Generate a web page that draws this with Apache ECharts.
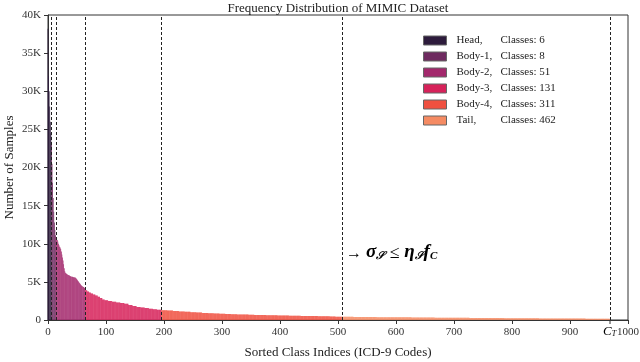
<!DOCTYPE html>
<html><head><meta charset="utf-8">
<script src="https://cdn.jsdelivr.net/npm/echarts@6/dist/echarts.min.js"></script>
<style>html,body{margin:0;padding:0;background:#fff}#c{width:640px;height:362px}</style>
</head><body><div id="c"></div>
<script>
// ---- data ----
const groupNames = ['Head', 'Body-1', 'Body-2', 'Body-3', 'Body-4', 'Tail'];
const groupCounts = [6, 8, 51, 131, 311, 462];
const groupColors = ['#2d1b3c', '#6e2a5f', '#a3286c', '#d6225a', '#ef5040', '#f58b63'];

const headValues = [38200, 32000, 30000, 28000, 26000, 24500];
const body1Values = [23000, 20500, 18000, 16000, 14200, 12800, 11800, 11100];
const body2Values = [
  10900, 10700, 10500, 10300, 10000, 9800, 9600, 9500, 9300, 9000,
  8600, 8200, 7800, 7300, 6800, 6400, 6200, 6100, 6050, 6000,
  5950, 5900, 5860, 5820, 5780, 5740, 5700, 5680, 5660, 5640,
  5620, 5600, 5580, 5560, 5500,
  5400, 5300, 5200, 5100, 5000, 4900, 4800, 4700, 4600, 4500,
  4420, 4380, 4340, 4300, 4200, 4100
];
// plateaus: sample level and number of classes at that level
const body3Levels = [3900, 3750, 3600, 3480, 3350, 3200, 3050, 2900, 2700, 2600, 2500, 2380, 2300, 2220, 2130, 1980, 1850, 1720, 1640, 1560, 1480, 1420, 1330];
const body3Runs   = [3, 3, 3, 4, 4, 4, 4, 4, 4, 6, 7, 7, 7, 7, 7, 7, 7, 7, 7, 7, 7, 7, 8];
const body4Levels = [1280, 1230, 1180, 1120, 1070, 1020, 970, 920, 880, 850, 820, 790, 760, 735, 710, 690, 670, 650, 630, 615, 600, 585, 570, 555, 540, 525, 510, 495, 480, 460, 440];
const body4Runs   = [10, 10, 10, 10, 10, 10, 10, 10, 10, 10, 10, 10, 10, 10, 10, 10, 10, 10, 10, 10, 10, 10, 10, 10, 10, 10, 10, 10, 10, 10, 11];
const tailLevels  = [420, 405, 390, 375, 360, 345, 332, 320, 308, 296, 285, 274, 263, 252, 242, 232, 222, 212, 203, 194, 185, 176, 168];
const tailRuns    = [20, 20, 20, 20, 20, 20, 20, 20, 20, 20, 20, 20, 20, 20, 20, 20, 20, 20, 20, 20, 20, 20, 22];

const boundaries = [6, 14, 65, 196, 507, 969];
const xTickValues = [0, 100, 200, 300, 400, 500, 600, 700, 800, 900, 1000];
const yTickValues = [0, 5000, 10000, 15000, 20000, 25000, 30000, 35000, 40000];
const cTPosition = 969;

// ---- build ----
function expandRuns(levels, runs) {
  const out = [];
  levels.forEach((lv, i) => { for (let k = 0; k < runs[i]; k++) out.push(lv); });
  return out;
}
const groupValues = [
  headValues, body1Values, body2Values,
  expandRuns(body3Levels, body3Runs),
  expandRuns(body4Levels, body4Runs),
  expandRuns(tailLevels, tailRuns)
];
let start = 0;
const groupData = groupValues.map(vals => {
  const d = vals.map((v, i) => [start + i, v]);
  start += vals.length;
  return d;
});

const SERIF = '"Liberation Serif", "DejaVu Serif", serif';
const chart = echarts.init(document.getElementById('c'), null, { renderer: 'canvas' });

const series = groupNames.map((name, g) => ({
  type: 'bar',
  name: name,
  stack: 'all',
  data: groupData[g],
  barWidth: 0.72,
  barMinWidth: 0.01,
  itemStyle: { color: groupColors[g] },
  emphasis: { disabled: true },
  silent: true
}));
series[series.length - 1].markLine = {
  silent: true,
  symbol: ['none', 'none'],
  label: { show: false },
  lineStyle: { color: '#222', type: [3, 2], width: 1 },
  data: boundaries.map(b => ({ xAxis: b }))
};

chart.setOption({
  animation: false,
  title: {
    text: 'Frequency Distribution of MIMIC Dataset',
    left: 338, top: 2, textAlign: 'center', padding: 0,
    textStyle: { fontFamily: SERIF, fontSize: 13, fontWeight: 'normal', color: '#222' }
  },
  grid: { left: 48, right: 12, top: 15, bottom: 42, outerBoundsMode: 'none', containLabel: false, show: true, borderColor: '#333', borderWidth: 1 },
  legend: {
    orient: 'vertical', left: 423, top: 35, padding: 0,
    itemWidth: 23, itemHeight: 9, itemGap: 5,
    icon: 'rect',
    itemStyle: { borderColor: '#666', borderWidth: 1 },
    data: groupNames,
    formatter: name => {
      const i = groupNames.indexOf(name);
      return '{a|' + name + ',}{b|Classes: ' + groupCounts[i] + '}';
    },
    textStyle: {
      fontFamily: SERIF, fontSize: 11, color: '#222', lineHeight: 11,
      rich: {
        a: { fontFamily: SERIF, fontSize: 11, color: '#222', width: 44, padding: [0, 0, 0, 5] },
        b: { fontFamily: SERIF, fontSize: 11, color: '#222' }
      }
    }
  },
  xAxis: {
    type: 'value', min: 0, max: 1000, interval: 100,
    name: 'Sorted Class Indices (ICD-9 Codes)', nameLocation: 'middle', nameGap: 26, nameMoveOverlap: false,
    nameTextStyle: { fontFamily: SERIF, fontSize: 13, color: '#222' },
    axisLine: { show: true, lineStyle: { color: '#333' } },
    axisTick: { show: true, length: 4, lineStyle: { color: '#333' } },
    axisLabel: {
      fontFamily: SERIF, fontSize: 11, color: '#333', margin: 7,
      formatter: v => xTickValues.indexOf(v) >= 0 ? String(v) : ''
    },
    splitLine: { show: false }
  },
  yAxis: {
    type: 'value', min: 0, max: 40000, interval: 5000,
    name: 'Number of Samples', nameLocation: 'middle', nameGap: 32, nameMoveOverlap: false,
    nameTextStyle: { fontFamily: SERIF, fontSize: 13, color: '#222' },
    axisLine: { show: true, lineStyle: { color: '#333' } },
    axisTick: { show: true, length: 4, lineStyle: { color: '#333' } },
    axisLabel: {
      fontFamily: SERIF, fontSize: 11, color: '#333', margin: 7,
      formatter: v => yTickValues.indexOf(v) < 0 ? '' : (v === 0 ? '0' : (v / 1000) + 'K')
    },
    splitLine: { show: false }
  },
  series: series
});

// annotation, C_T tick and label placed through the chart's own scales
const pAnn = chart.convertToPixel({ gridIndex: 0 }, [507, 8800]);
const pCT = chart.convertToPixel({ gridIndex: 0 }, [cTPosition, 0]);
chart.setOption({
  graphic: [
    {
      type: 'text', left: pAnn[0] + 4, top: pAnn[1] - 10, silent: true,
      style: {
        text: '{ar|→ }{m|σ}{s|𝒮}{r| ≤ }{m|η}{s|𝒮}{m|f}{s|C}',
        rich: {
          ar: { fontFamily: SERIF, fontSize: 16, color: '#111', verticalAlign: 'bottom', lineHeight: 19 },
          r: { fontFamily: SERIF, fontSize: 18, color: '#111', verticalAlign: 'bottom', lineHeight: 19 },
          m: { fontFamily: SERIF, fontSize: 19, fontStyle: 'italic', fontWeight: 'bold', color: '#111', verticalAlign: 'bottom', lineHeight: 19 },
          s: { fontFamily: SERIF, fontSize: 11, fontStyle: 'italic', fontWeight: 'bold', color: '#111', verticalAlign: 'bottom', lineHeight: 16 }
        }
      }
    },
    {
      type: 'line', silent: true,
      shape: { x1: pCT[0], y1: pCT[1], x2: pCT[0], y2: pCT[1] + 4 },
      style: { stroke: '#333', lineWidth: 1 }
    },
    {
      type: 'text', left: pCT[0] - 7, top: pCT[1] + 5, silent: true,
      style: {
        text: '{c|C}{t|T}',
        rich: {
          c: { fontFamily: SERIF, fontSize: 13, fontStyle: 'italic', color: '#222', verticalAlign: 'bottom', lineHeight: 14 },
          t: { fontFamily: SERIF, fontSize: 8, fontStyle: 'italic', color: '#222', verticalAlign: 'bottom', lineHeight: 11 }
        }
      }
    }
  ]
});
</script>
</body></html>
